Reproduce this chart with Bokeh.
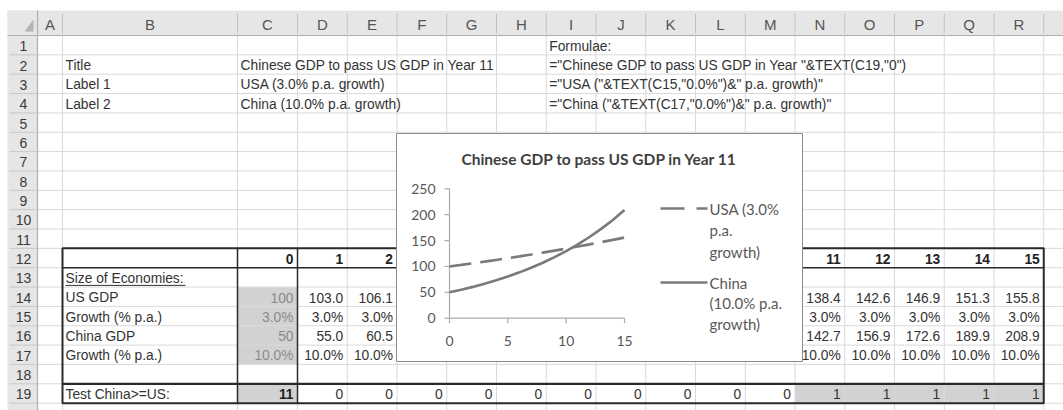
from bokeh.plotting import figure
from bokeh.models import Range1d, ColumnDataSource
from bokeh.embed import file_html
from bokeh.resources import INLINE
from bokeh.core.properties import value

# ---------------- data ----------------
years = [0, 1, 2, 3, 4, 5, 6, 7, 8, 9, 10, 11, 12, 13, 14, 15]
usa_gdp = [100.0, 103.0, 106.1, 109.3, 112.6, 115.9, 119.4, 123.0, 126.7, 130.5,
           134.4, 138.4, 142.6, 146.9, 151.3, 155.8]
china_gdp = [50.0, 55.0, 60.5, 66.6, 73.2, 80.5, 88.6, 97.4, 107.2, 117.9,
             129.7, 142.7, 156.9, 172.6, 189.9, 208.9]
usa_growth = [3.0, 3.0, 3.0, 3.0, 3.0, 3.0, 3.0, 3.0, 3.0, 3.0, 3.0, 3.0, 3.0, 3.0, 3.0, 3.0]
china_growth = [10.0, 10.0, 10.0, 10.0, 10.0, 10.0, 10.0, 10.0, 10.0, 10.0,
                10.0, 10.0, 10.0, 10.0, 10.0, 10.0]
test_china_ge_us = [0, 0, 0, 0, 0, 0, 0, 0, 0, 0, 0, 1, 1, 1, 1, 1]
pass_year = 11

chart_title = "Chinese GDP to pass US GDP in Year 11"
label_usa = "USA (3.0% p.a. growth)"
label_china = "China (10.0% p.a. growth)"
legend_usa_lines = ["USA (3.0%", "p.a.", "growth)"]
legend_china_lines = ["China", "(10.0% p.a.", "growth)"]
y_ticks = [0, 50, 100, 150, 200, 250]
x_ticks = [0, 5, 10, 15]

col_letters = ["A", "B", "C", "D", "E", "F", "G", "H", "I", "J", "K", "L", "M",
               "N", "O", "P", "Q", "R"]
row_numbers = list(range(1, 20))
setup_labels = ["Title", "Label 1", "Label 2"]
formulae_header = "Formulae:"
formulae = ['="Chinese GDP to pass US GDP in Year "&TEXT(C19,"0")',
            '="USA ("&TEXT(C15,"0.0%")&" p.a. growth)"',
            '="China ("&TEXT(C17,"0.0%")&" p.a. growth)"']
section_label = "Size of Economies:"
row_labels = {14: "US GDP", 15: "Growth (% p.a.)", 16: "China GDP",
              17: "Growth (% p.a.)", 19: "Test China>=US:"}

# ---------------- layout (pixels) ----------------
W, H = 1063, 410
HDR_TOP, HDR_BOT = 10, 35
ROW_H = 19.35
RH_LEFT, RH_RIGHT = 7, 37
col_widths = [25, 175, 60] + [49.75] * 15 + [40]
col_edges = [RH_RIGHT]
for w in col_widths:
    col_edges.append(col_edges[-1] + w)
row_tops = [HDR_BOT + i * ROW_H for i in range(21)]


def cl(ci):
    return col_edges[ci]


def cr(ci):
    return col_edges[ci + 1]


def rc(r):
    return row_tops[r - 1] + ROW_H / 2 + 1


CHART_L, CHART_R, CHART_T, CHART_B = 396, 802, 133, 361
PLOT_X0, PLOT_X1 = 449, 624
PLOT_Y0, PLOT_Y1 = 317.7, 188.3

SHEET_FONT = value("Liberation Sans")
CHART_FONT = value("Lato")
GRID = "#d9d9d9"
HDR_FILL = "#e6e6e6"
SHEET_TXT = "#333333"
CHART_TXT = "#595959"
SERIES = "#7a7a7a"

p = figure(width=W, height=H, x_range=Range1d(0, W), y_range=Range1d(H, 0),
           output_backend="svg", toolbar_location=None, min_border=0,
           x_axis_location=None, y_axis_location=None)
p.grid.visible = False
p.outline_line_color = None
p.background_fill_color = "white"
p.border_fill_color = "white"

# header bands
p.quad(left=[RH_LEFT], right=[W], top=[HDR_TOP], bottom=[HDR_BOT],
       fill_color=HDR_FILL, line_color=None)
p.quad(left=[RH_LEFT], right=[RH_RIGHT], top=[HDR_TOP], bottom=[H],
       fill_color=HDR_FILL, line_color=None)
# corner triangle
p.patch(x=[24, 33, 33], y=[31, 31, 19], fill_color="#b4b4b4", line_color=None)

# gray input / result fills
fill_l, fill_r, fill_t, fill_b = [], [], [], []
for r in (14, 15, 16, 17):
    fill_l.append(cl(2)); fill_r.append(cr(2))
    fill_t.append(row_tops[r - 1]); fill_b.append(row_tops[r])
fill_l.append(cl(2)); fill_r.append(cr(2)); fill_t.append(row_tops[18]); fill_b.append(row_tops[19])
for i, t in enumerate(test_china_ge_us):
    if i > 0 and t == 1:
        fill_l.append(cl(2 + i)); fill_r.append(cr(2 + i))
        fill_t.append(row_tops[18]); fill_b.append(row_tops[19])
p.quad(left=fill_l, right=fill_r, top=fill_t, bottom=fill_b,
       fill_color="#d2d2d2", line_color=None)

# grid lines
vx = col_edges[1:]
p.segment(x0=vx, y0=[HDR_BOT] * len(vx), x1=vx, y1=[H] * len(vx),
          line_color=GRID, line_width=1)
hy = row_tops
p.segment(x0=[RH_RIGHT] * len(hy), y0=hy, x1=[W] * len(hy), y1=hy,
          line_color=GRID, line_width=1)
# header separators
p.segment(x0=vx, y0=[HDR_TOP + 3] * len(vx), x1=vx, y1=[HDR_BOT - 2] * len(vx),
          line_color="#c2c2c2", line_width=1)
p.segment(x0=[RH_LEFT + 2] * len(hy), y0=hy, x1=[RH_RIGHT - 1] * len(hy), y1=hy,
          line_color="#c8c8c8", line_width=1)
p.segment(x0=[RH_LEFT], y0=[HDR_BOT], x1=[W], y1=[HDR_BOT], line_color="#b0b0b0", line_width=1.2)
p.segment(x0=[RH_RIGHT], y0=[HDR_TOP], x1=[RH_RIGHT], y1=[H], line_color="#b0b0b0", line_width=1.2)

# column letters and row numbers
p.text(x=[(cl(i) + cr(i)) / 2 for i in range(len(col_letters))],
       y=[(HDR_TOP + HDR_BOT) / 2 + 1] * len(col_letters), text=col_letters,
       text_font=SHEET_FONT, text_font_size="15px", text_color="#555555",
       text_align="center", text_baseline="middle")
p.text(x=[(RH_LEFT + RH_RIGHT) / 2 + 1] * len(row_numbers),
       y=[rc(r) for r in row_numbers], text=[str(r) for r in row_numbers],
       text_font=SHEET_FONT, text_font_size="14px", text_color="#3a3a3a",
       text_align="center", text_baseline="middle")


def hidden(ci, r):
    return cl(ci) >= CHART_L - 1 and cr(ci) <= CHART_R + 1 and CHART_T <= rc(r) <= CHART_B


# cell texts
L = dict(x=[], y=[], text=[])
R = dict(x=[], y=[], text=[])
RB = dict(x=[], y=[], text=[])
RG = dict(x=[], y=[], text=[])


def put(d, ci, r, t, align="left"):
    if hidden(ci, r):
        return
    d["x"].append(cl(ci) + 3 if align == "left" else cr(ci) - 4)
    d["y"].append(rc(r))
    d["text"].append(t)


for k, lab in enumerate(setup_labels):
    put(L, 1, 2 + k, lab)
for k, lab in enumerate([chart_title, label_usa, label_china]):
    put(L, 2, 2 + k, lab)
put(L, 8, 1, formulae_header)
for k, f in enumerate(formulae):
    put(L, 8, 2 + k, f)
put(L, 1, 13, section_label)
for r, lab in row_labels.items():
    put(L, 1, r, lab)

for i, yr in enumerate(years):
    ci = 2 + i
    put(RB, ci, 12, str(yr), "right")
    if i == 0:
        put(RG, ci, 14, f"{usa_gdp[i]:.0f}", "right")
        put(RG, ci, 15, f"{usa_growth[i]:.1f}%", "right")
        put(RG, ci, 16, f"{china_gdp[i]:.0f}", "right")
        put(RG, ci, 17, f"{china_growth[i]:.1f}%", "right")
        put(RB, ci, 19, str(pass_year), "right")
    else:
        put(R, ci, 14, f"{usa_gdp[i]:.1f}", "right")
        put(R, ci, 15, f"{usa_growth[i]:.1f}%", "right")
        put(R, ci, 16, f"{china_gdp[i]:.1f}", "right")
        put(R, ci, 17, f"{china_growth[i]:.1f}%", "right")
        put(R, ci, 19, str(test_china_ge_us[i]), "right")

common = dict(text_font=SHEET_FONT, text_font_size="13.8px", text_baseline="middle")
p.text(source=ColumnDataSource(L), x="x", y="y", text="text", text_align="left",
       text_color=SHEET_TXT, **common)
p.text(source=ColumnDataSource(R), x="x", y="y", text="text", text_align="right",
       text_color=SHEET_TXT, **common)
p.text(source=ColumnDataSource(RB), x="x", y="y", text="text", text_align="right",
       text_color="#222222", text_font_style="bold", **common)
p.text(source=ColumnDataSource(RG), x="x", y="y", text="text", text_align="right",
       text_color="#8a8a8a", **common)
# underline of section label
p.segment(x0=[cl(1) + 3], y0=[rc(13) + 7], x1=[cl(1) + 123], y1=[rc(13) + 7],
          line_color=SHEET_TXT, line_width=1)

# table borders
TB_T, TB_B = row_tops[11], row_tops[19]
p.quad(left=[cl(1)], right=[cr(17)], top=[TB_T], bottom=[TB_B],
       fill_color=None, line_color="#2a2a2a", line_width=2)
p.segment(x0=[cl(1), cl(1)], y0=[row_tops[12], row_tops[18]],
          x1=[cr(17), cr(17)], y1=[row_tops[12], row_tops[18]],
          line_color="#2a2a2a", line_width=[1.5, 2.2])
p.segment(x0=[cl(2), cr(2)], y0=[TB_T, TB_T], x1=[cl(2), cr(2)], y1=[TB_B, TB_B],
          line_color="#2a2a2a", line_width=1.5)

# ---------------- embedded chart ----------------
p.quad(left=[CHART_L], right=[CHART_R], top=[CHART_T], bottom=[CHART_B],
       fill_color="white", line_color="#8c8c8c", line_width=1)
p.text(x=[(CHART_L + CHART_R) / 2], y=[158], text=[chart_title],
       text_font=CHART_FONT, text_font_size="15.5px", text_font_style="bold",
       text_color="#404040", text_align="center", text_baseline="middle")

sub = p.subplot(x_source=Range1d(x_ticks[0], x_ticks[-1]),
                y_source=Range1d(y_ticks[0], y_ticks[-1]),
                x_target=Range1d(PLOT_X0, PLOT_X1),
                y_target=Range1d(PLOT_Y0, PLOT_Y1))
TICK_PX = 5
tick_dx = TICK_PX * (x_ticks[-1] - x_ticks[0]) / (PLOT_X1 - PLOT_X0)
tick_dy = TICK_PX * (y_ticks[-1] - y_ticks[0]) / (PLOT_Y0 - PLOT_Y1)
AX = "#ababab"
sub.segment(x0=[x_ticks[0], x_ticks[0]], y0=[y_ticks[0], y_ticks[0]],
            x1=[x_ticks[0], x_ticks[-1]], y1=[y_ticks[-1], y_ticks[0]],
            line_color=AX, line_width=1.2)
sub.segment(x0=[x_ticks[0] - tick_dx] * len(y_ticks), y0=y_ticks,
            x1=[x_ticks[0]] * len(y_ticks), y1=y_ticks, line_color=AX, line_width=1.2)
sub.segment(x0=x_ticks, y0=[y_ticks[0]] * len(x_ticks),
            x1=x_ticks, y1=[y_ticks[0] - tick_dy] * len(x_ticks), line_color=AX, line_width=1.2)
sub.text(x=[x_ticks[0]] * len(y_ticks), y=y_ticks, text=[str(v) for v in y_ticks],
         x_offset=-14, text_align="right", text_baseline="middle",
         text_font=CHART_FONT, text_font_size="14px", text_color=CHART_TXT)
sub.text(x=x_ticks, y=[y_ticks[0]] * len(x_ticks), text=[str(v) for v in x_ticks],
         y_offset=23, text_align="center", text_baseline="middle",
         text_font=CHART_FONT, text_font_size="14px", text_color=CHART_TXT)
sub.line(x=years, y=usa_gdp, line_color=SERIES, line_width=2.6, line_dash="22 9")
sub.line(x=years, y=china_gdp, line_color=SERIES, line_width=2.6, line_join="round")

# legend
LEG_X0, LEG_X1, LEG_TX = 660, 707, 709
p.segment(x0=[LEG_X0], y0=[208], x1=[LEG_X1], y1=[208], line_color=SERIES,
          line_width=2.6, line_dash="24 12")
p.segment(x0=[LEG_X0], y0=[282], x1=[LEG_X1], y1=[282], line_color=SERIES,
          line_width=2.6)
p.text(x=[LEG_TX] * 3, y=[208, 229.5, 251], text=legend_usa_lines,
       text_font=CHART_FONT, text_font_size="15px", text_color=CHART_TXT,
       text_align="left", text_baseline="middle")
p.text(x=[LEG_TX] * 3, y=[282, 302.5, 323], text=legend_china_lines,
       text_font=CHART_FONT, text_font_size="15px", text_color=CHART_TXT,
       text_align="left", text_baseline="middle")

open("out.html", "w").write(file_html(p, INLINE))
